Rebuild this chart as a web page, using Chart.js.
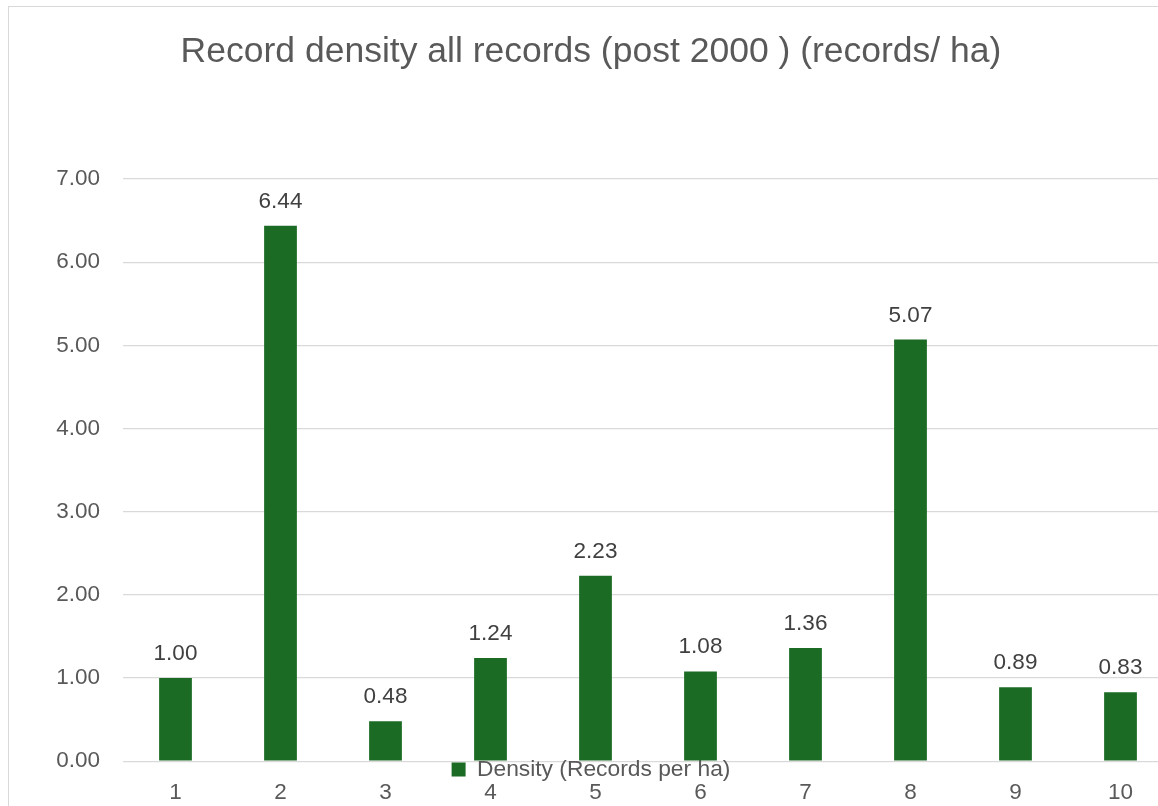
<!DOCTYPE html>
<html>
<head>
<meta charset="utf-8">
<script src="https://cdn.jsdelivr.net/npm/chart.js@4/dist/chart.umd.min.js"></script>
<style>
  html, body { margin: 0; padding: 0; background: #ffffff; overflow: hidden; }
  #frame {
    position: absolute; left: 8px; top: 6px;
    width: 1165px; height: 840px;
    border: 1px solid #d9d9d9; background: #ffffff;
  }
  canvas { display: block; }
</style>
</head>
<body>
<div id="frame"><canvas id="chart" width="1165" height="840"></canvas></div>
<script>
// Record density per site (records per hectare, post-2000 records)
const categories = ['1', '2', '3', '4', '5', '6', '7', '8', '9', '10'];
const densityValues = [1.00, 6.44, 0.48, 1.24, 2.23, 1.08, 1.36, 5.07, 0.89, 0.83];
const yTickValues = [0, 1, 2, 3, 4, 5, 6, 7];

const titleText = 'Record density all records (post 2000 ) (records/ ha)';
const seriesName = 'Density (Records per ha)';

const FONT = "'Liberation Sans', Arial, sans-serif";
const GREEN = '#1b6b24';
const TEXT = '#595959';

// Writes each bar's value just above it
const valueLabels = {
  id: 'valueLabels',
  afterDatasetsDraw(chart) {
    const ctx = chart.ctx;
    ctx.save();
    ctx.font = '22.5px ' + FONT;
    ctx.fillStyle = '#404040';
    ctx.textAlign = 'center';
    ctx.textBaseline = 'alphabetic';
    chart.getDatasetMeta(0).data.forEach((bar, i) => {
      const v = chart.data.datasets[0].data[i];
      ctx.fillText(v.toFixed(2), bar.x, bar.y - 18);
    });
    ctx.restore();
  }
};

// Pulls the legend up so it sits just under the baseline, above the category labels
const legendUnderAxis = {
  id: 'legendUnderAxis',
  afterLayout(chart) {
    const lg = chart.legend;
    if (!lg) return;
    const h = lg.bottom - lg.top;
    lg.top = chart.chartArea.bottom - 13;
    lg.bottom = lg.top + h;
  }
};

new Chart(document.getElementById('chart'), {
  type: 'bar',
  data: {
    labels: categories,
    datasets: [{
      label: seriesName,
      data: densityValues,
      backgroundColor: GREEN,
      borderWidth: 0,
      categoryPercentage: 1,
      barPercentage: 0.312
    }]
  },
  options: {
    responsive: false,
    animation: false,
    devicePixelRatio: 1,
    layout: { padding: { left: 0, right: 1, top: 0, bottom: 0 } },
    plugins: {
      title: {
        display: true,
        text: titleText,
        color: TEXT,
        font: { family: FONT, size: 35.5, weight: 'normal' },
        padding: { top: 24, bottom: 105.5 }
      },
      legend: {
        display: true,
        position: 'bottom',
        labels: {
          color: TEXT,
          font: { family: FONT, size: 22.8 },
          boxWidth: 14,
          boxHeight: 14,
          padding: 10
        }
      },
      tooltip: { enabled: false }
    },
    scales: {
      x: {
        grid: { display: false },
        border: { display: false },
        ticks: {
          color: TEXT,
          font: { family: FONT, size: 22.5 },
          padding: 10,
          maxRotation: 0
        },
        afterFit(s) { s.height = 43; }
      },
      y: {
        min: 0,
        max: 7,
        grid: { color: '#d9d9d9', lineWidth: 1.3, drawTicks: false },
        border: { display: false },
        afterBuildTicks(s) { s.ticks = yTickValues.map(v => ({ value: v })); },
        ticks: {
          color: TEXT,
          font: { family: FONT, size: 22.5 },
          padding: 23,
          callback: v => Number(v).toFixed(2)
        },
        afterFit(s) { s.width = 114; }
      }
    }
  },
  plugins: [valueLabels, legendUnderAxis]
});
</script>
</body>
</html>
